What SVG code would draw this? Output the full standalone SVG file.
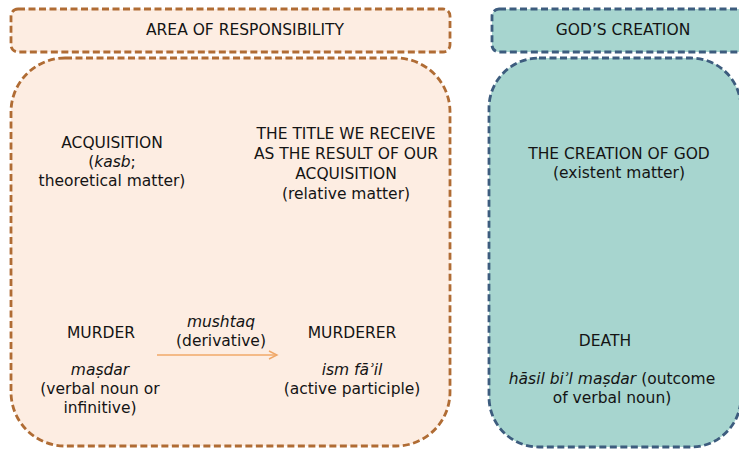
<svg xmlns="http://www.w3.org/2000/svg" width="739" height="449" viewBox="0 0 739 449">
<defs>
<style>
.t{font-family:"DejaVu Sans","Liberation Sans",sans-serif;font-size:15.5px;fill:#141414;text-anchor:middle}
.i{font-style:italic}
.warm{fill:#fdede2;stroke:#b06c34;stroke-width:2.8;stroke-dasharray:7 3.5}
.cool{fill:#a7d5cf;stroke:#3d5c7e;stroke-width:2.8;stroke-dasharray:7 3.5}
</style>
<marker id="ah" markerWidth="12" markerHeight="12" refX="9" refY="5" orient="auto" markerUnits="userSpaceOnUse">
<path d="M1,1 L9,5 L1,9" fill="none" stroke="#f0a868" stroke-width="1.4"/>
</marker>
</defs>
<rect width="739" height="449" fill="#ffffff"/>
<g id="area-header">
<rect class="warm" x="11" y="9" width="439" height="43" rx="7"/>
<text class="t" x="245" y="35">AREA OF RESPONSIBILITY</text>
</g>
<g id="gods-header">
<rect class="cool" x="492" y="9" width="260" height="43" rx="7"/>
<text class="t" x="623" y="35">GOD’S CREATION</text>
</g>
<g id="area-main">
<rect class="warm" x="11" y="58" width="439" height="388" rx="54"/>
</g>
<g id="gods-main">
<rect class="cool" x="489" y="58" width="252" height="389" rx="50"/>
</g>
<g id="acquisition">
<text class="t" x="112" y="148">ACQUISITION</text>
<text class="t" x="112" y="167">(<tspan class="i">kasb</tspan>;</text>
<text class="t" x="112" y="186">theoretical matter)</text>
</g>
<g id="title">
<text class="t" x="346" y="139">THE TITLE WE RECEIVE</text>
<text class="t" x="346" y="159">AS THE RESULT OF OUR</text>
<text class="t" x="346" y="179">ACQUISITION</text>
<text class="t" x="346" y="199">(relative matter)</text>
</g>
<g id="creation">
<text class="t" x="619" y="159">THE CREATION OF GOD</text>
<text class="t" x="619" y="178">(existent matter)</text>
</g>
<g id="murder">
<text class="t" x="101" y="338">MURDER</text>
<text class="t i" x="100" y="375">maṣdar</text>
<text class="t" x="100" y="394">(verbal noun or</text>
<text class="t" x="100" y="413">infinitive)</text>
</g>
<g id="murderer">
<text class="t" x="352" y="338">MURDERER</text>
<text class="t i" x="352" y="375">ism fāʾil</text>
<text class="t" x="352" y="394">(active participle)</text>
</g>
<g id="death">
<text class="t" x="605" y="346">DEATH</text>
<text class="t" x="612" y="384"><tspan class="i">hāsil biʾl maṣdar</tspan> (outcome</text>
<text class="t" x="612" y="403">of verbal noun)</text>
</g>
<g id="connectors">
<line x1="157" y1="355" x2="277" y2="355" stroke="#f0a868" stroke-width="1.4" marker-end="url(#ah)"/>
<text class="t i" x="221" y="327">mushtaq</text>
<text class="t" x="221" y="346">(derivative)</text>
</g>
</svg>
